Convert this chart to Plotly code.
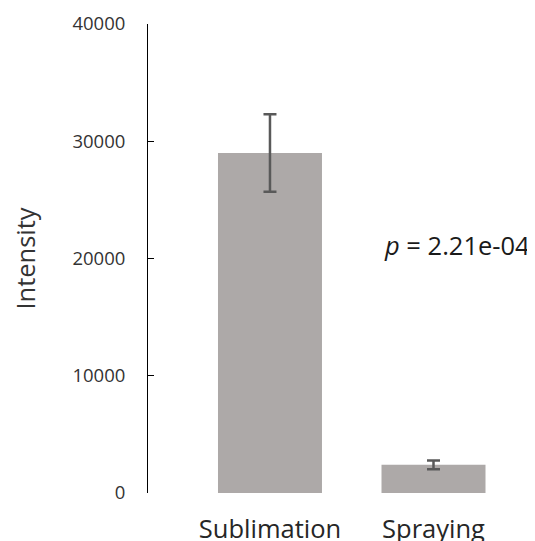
import plotly.graph_objects as go

categories = ["Sublimation", "Spraying"]
intensity = [29000, 2400]
errors = [3300, 380]
y_ticks = [0, 10000, 20000, 30000, 40000]
p_label = "<i>p</i> = 2.21e-04"

x_pos = list(range(len(categories)))
FONT = "Open Sans, Liberation Sans, sans-serif"

fig = go.Figure()
fig.add_trace(go.Bar(
    x=x_pos, y=intensity, width=0.636,
    marker=dict(color="#ADA9A8", line=dict(width=0)),
    error_y=dict(type="data", array=errors, visible=True,
                 color="#595959", thickness=2.5, width=6.5),
    showlegend=False,
))

fig.add_annotation(x=1, y=21150, xref="x", yref="y", text=p_label,
                   showarrow=False, xanchor="left", yanchor="middle", xshift=-52,
                   font=dict(family=FONT, size=25.5, color="#1a1a1a"))

# page body has an 8px default margin; margins compensate for it
fig.update_layout(
    width=535, height=541,
    margin=dict(l=140, r=23, t=16, b=56),
    plot_bgcolor="white", paper_bgcolor="white",
    font=dict(family=FONT, color="#333333"),
    bargap=0.37,
)
fig.update_xaxes(
    range=[-0.746, 1.529], tickvals=x_pos, ticktext=categories,
    showline=False, showgrid=False, zeroline=False, ticks="",
    tickfont=dict(size=25.5, color="#262626"), ticklabelstandoff=18,
    automargin=False,
)
fig.update_yaxes(
    range=[0, 40000], tickvals=y_ticks, ticktext=[str(v) for v in y_ticks],
    showline=True, linecolor="#000000", linewidth=1,
    ticks="inside", ticklen=6, tickcolor="#000000",
    showgrid=False, zeroline=False,
    tickfont=dict(size=18.5, color="#333333"), ticklabelstandoff=18,
    title=dict(text="Intensity", font=dict(size=25.5, color="#333333"), standoff=35),
    automargin=False,
)

fig.write_html("out.html")
